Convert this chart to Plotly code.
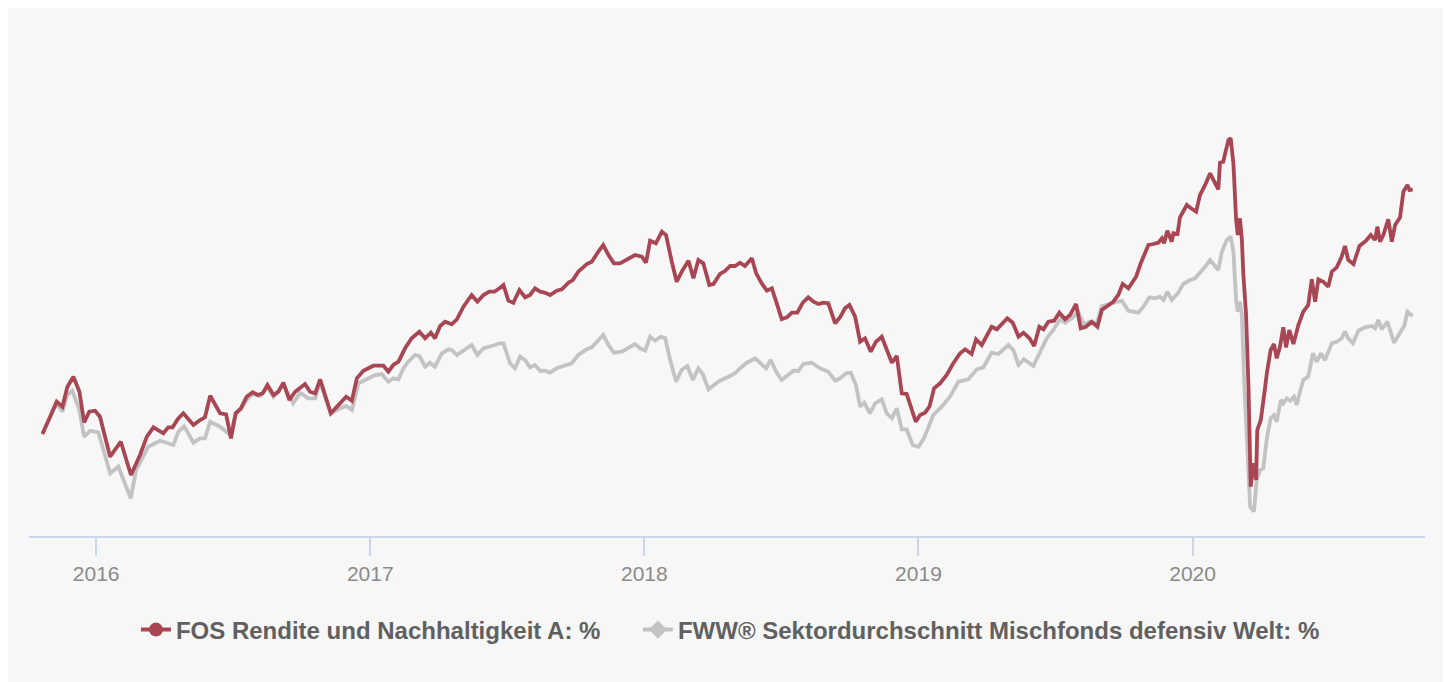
import plotly.graph_objects as go

# weekly performance in % (x as decimal year)
fos_x = [
    2015.804, 2015.856, 2015.877, 2015.895, 2015.917, 2015.939, 2015.956, 2015.975, 2015.996, 2016.014,
    2016.051, 2016.090, 2016.127, 2016.160, 2016.185, 2016.209, 2016.245, 2016.263, 2016.279, 2016.298,
    2016.318, 2016.355, 2016.379, 2016.397, 2016.416, 2016.452, 2016.474, 2016.492, 2016.509, 2016.528,
    2016.549, 2016.571, 2016.590, 2016.608, 2016.625, 2016.647, 2016.665, 2016.683, 2016.705, 2016.726,
    2016.762, 2016.780, 2016.799, 2016.817, 2016.856, 2016.884, 2016.912, 2016.933, 2016.951, 2016.975,
    2017.011, 2017.048, 2017.066, 2017.084, 2017.103, 2017.127, 2017.151, 2017.179, 2017.200, 2017.221,
    2017.236, 2017.255, 2017.273, 2017.297, 2017.316, 2017.340, 2017.370, 2017.391, 2017.413, 2017.435,
    2017.453, 2017.474, 2017.486, 2017.504, 2017.522, 2017.544, 2017.565, 2017.583, 2017.601, 2017.620,
    2017.638, 2017.656, 2017.680, 2017.699, 2017.723, 2017.739, 2017.759, 2017.790, 2017.808, 2017.832,
    2017.850, 2017.869, 2017.889, 2017.911, 2017.936, 2017.966, 2017.991, 2018.006, 2018.021, 2018.042,
    2018.064, 2018.079, 2018.100, 2018.118, 2018.140, 2018.161, 2018.179, 2018.197, 2018.215, 2018.237,
    2018.252, 2018.276, 2018.294, 2018.313, 2018.331, 2018.349, 2018.367, 2018.392, 2018.408, 2018.428,
    2018.447, 2018.465, 2018.483, 2018.501, 2018.520, 2018.538, 2018.558, 2018.578, 2018.598, 2018.617,
    2018.635, 2018.653, 2018.671, 2018.696, 2018.714, 2018.732, 2018.748, 2018.769, 2018.787, 2018.805,
    2018.826, 2018.845, 2018.866, 2018.884, 2018.903, 2018.921, 2018.939, 2018.957, 2018.976, 2018.990,
    2019.006, 2019.024, 2019.040, 2019.057, 2019.079, 2019.103, 2019.127, 2019.152, 2019.170, 2019.194,
    2019.210, 2019.231, 2019.267, 2019.286, 2019.324, 2019.344, 2019.365, 2019.383, 2019.405, 2019.422,
    2019.441, 2019.456, 2019.474, 2019.495, 2019.514, 2019.535, 2019.553, 2019.575, 2019.592, 2019.611,
    2019.632, 2019.653, 2019.669, 2019.689, 2019.711, 2019.729, 2019.745, 2019.766, 2019.794, 2019.811,
    2019.839, 2019.857, 2019.875, 2019.888, 2019.896, 2019.908, 2019.924, 2019.930, 2019.945, 2019.954,
    2019.979, 2019.994, 2020.013, 2020.027, 2020.046, 2020.064, 2020.076, 2020.094, 2020.100, 2020.112,
    2020.119, 2020.131, 2020.139, 2020.149, 2020.159, 2020.165, 2020.173, 2020.180, 2020.185, 2020.195,
    2020.204, 2020.212, 2020.222, 2020.232, 2020.236, 2020.249, 2020.265, 2020.271, 2020.285, 2020.297,
    2020.307, 2020.319, 2020.331, 2020.341, 2020.353, 2020.368, 2020.386, 2020.404, 2020.422, 2020.435,
    2020.447, 2020.459, 2020.477, 2020.495, 2020.508, 2020.526, 2020.544, 2020.556, 2020.568, 2020.587,
    2020.609, 2020.633, 2020.650, 2020.666, 2020.674, 2020.684, 2020.696, 2020.714, 2020.727, 2020.739,
    2020.757, 2020.769, 2020.784, 2020.791, 2020.803,
]
fos_y = [
    0.00, 3.23, 2.73, 4.73, 5.73, 4.23, 1.17, 2.23, 2.33, 1.73,
    -2.27, -0.77, -4.10, -2.10, -0.27, 0.67, 0.07, 0.67, 0.67, 1.50,
    2.07, 0.90, 1.40, 1.67, 3.83, 2.07, 1.97, -0.43, 2.07, 2.57,
    3.73, 4.17, 3.90, 4.07, 4.90, 3.90, 4.23, 5.13, 3.40, 4.23,
    5.00, 4.23, 4.07, 5.47, 2.07, 2.90, 3.73, 3.33, 5.57, 6.33,
    6.83, 6.83, 6.23, 6.90, 7.23, 8.57, 9.57, 10.23, 9.57, 10.13,
    9.57, 10.80, 11.23, 10.97, 11.47, 12.73, 13.90, 13.23, 13.90, 14.23,
    14.23, 14.63, 14.90, 13.33, 13.13, 14.40, 13.67, 13.90, 14.57, 14.23,
    14.13, 13.90, 14.33, 14.47, 15.13, 15.40, 16.23, 17.00, 17.23, 18.23,
    18.90, 17.90, 17.07, 17.07, 17.40, 17.90, 17.73, 17.13, 19.33, 19.07,
    20.23, 19.90, 17.23, 15.23, 16.40, 17.33, 15.57, 17.40, 17.07, 14.90,
    15.00, 16.00, 16.30, 16.80, 16.80, 17.13, 16.80, 17.57, 16.07, 15.07,
    14.33, 14.57, 13.07, 11.50, 11.67, 12.13, 12.13, 13.13, 13.67, 13.23,
    13.00, 13.13, 13.07, 11.07, 11.67, 12.57, 12.90, 11.73, 9.23, 9.57,
    8.23, 9.23, 9.73, 8.40, 7.13, 7.80, 4.07, 4.00, 2.40, 1.23,
    1.90, 2.13, 2.73, 4.57, 5.07, 5.90, 7.07, 8.07, 8.47, 8.00,
    9.47, 8.90, 10.73, 10.47, 11.57, 11.13, 9.73, 10.13, 9.57, 8.80,
    10.73, 10.47, 11.23, 11.33, 12.13, 11.47, 11.90, 13.00, 10.57, 10.73,
    11.23, 10.73, 12.40, 12.80, 13.23, 13.90, 15.00, 14.57, 15.73, 17.07,
    18.90, 19.00, 19.13, 19.57, 19.07, 20.33, 19.23, 20.07, 20.00, 21.67,
    22.90, 22.57, 22.23, 23.90, 24.90, 26.07, 25.40, 24.47, 27.13, 27.23,
    28.07, 29.40, 29.57, 27.07, 21.40, 19.90, 21.57, 19.40, 16.07, 12.07,
    4.73, -5.27, -2.93, -4.60, 0.40, 1.40, 4.73, 6.07, 8.40, 9.00,
    7.57, 8.73, 10.67, 8.67, 10.40, 9.00, 10.90, 12.23, 12.90, 15.47,
    13.23, 15.47, 15.23, 14.73, 16.23, 16.67, 17.73, 18.80, 17.40, 17.00,
    18.80, 19.33, 19.90, 19.40, 20.73, 19.23, 19.90, 21.47, 19.23, 20.90,
    21.67, 24.23, 24.90, 24.40, 24.47,
]

fww_x = [
    2015.804, 2015.856, 2015.877, 2015.895, 2015.913, 2015.939, 2015.956, 2015.978, 2016.008, 2016.051,
    2016.081, 2016.103, 2016.126, 2016.146, 2016.190, 2016.233, 2016.282, 2016.300, 2016.321, 2016.355,
    2016.379, 2016.397, 2016.416, 2016.452, 2016.489, 2016.509, 2016.528, 2016.549, 2016.571, 2016.598,
    2016.625, 2016.647, 2016.683, 2016.719, 2016.744, 2016.774, 2016.799, 2016.817, 2016.856, 2016.890,
    2016.912, 2016.933, 2016.957, 2016.987, 2017.018, 2017.042, 2017.066, 2017.084, 2017.103, 2017.121,
    2017.139, 2017.163, 2017.179, 2017.200, 2017.218, 2017.236, 2017.261, 2017.285, 2017.297, 2017.316,
    2017.342, 2017.370, 2017.391, 2017.413, 2017.443, 2017.474, 2017.486, 2017.510, 2017.528, 2017.547,
    2017.565, 2017.583, 2017.601, 2017.620, 2017.638, 2017.656, 2017.680, 2017.711, 2017.735, 2017.759,
    2017.790, 2017.808, 2017.829, 2017.850, 2017.869, 2017.889, 2017.918, 2017.942, 2017.966, 2017.984,
    2018.003, 2018.021, 2018.039, 2018.060, 2018.076, 2018.094, 2018.116, 2018.136, 2018.157, 2018.177,
    2018.197, 2018.213, 2018.234, 2018.254, 2018.276, 2018.307, 2018.331, 2018.349, 2018.374, 2018.404,
    2018.422, 2018.444, 2018.461, 2018.481, 2018.501, 2018.525, 2018.544, 2018.562, 2018.580, 2018.611,
    2018.641, 2018.671, 2018.696, 2018.714, 2018.736, 2018.753, 2018.772, 2018.787, 2018.802, 2018.823,
    2018.842, 2018.866, 2018.884, 2018.903, 2018.921, 2018.939, 2018.957, 2018.979, 2019.000, 2019.020,
    2019.054, 2019.085, 2019.115, 2019.146, 2019.182, 2019.213, 2019.237, 2019.267, 2019.292, 2019.328,
    2019.346, 2019.365, 2019.385, 2019.419, 2019.444, 2019.468, 2019.492, 2019.517, 2019.535, 2019.559,
    2019.583, 2019.602, 2019.626, 2019.651, 2019.669, 2019.699, 2019.724, 2019.742, 2019.766, 2019.802,
    2019.821, 2019.842, 2019.863, 2019.881, 2019.894, 2019.908, 2019.924, 2019.948, 2019.966, 2019.991,
    2020.009, 2020.027, 2020.046, 2020.064, 2020.082, 2020.094, 2020.107, 2020.125, 2020.139, 2020.149,
    2020.159, 2020.165, 2020.173, 2020.180, 2020.188, 2020.198, 2020.210, 2020.224, 2020.234, 2020.246,
    2020.258, 2020.271, 2020.285, 2020.297, 2020.307, 2020.322, 2020.331, 2020.344, 2020.356, 2020.370,
    2020.380, 2020.392, 2020.404, 2020.422, 2020.439, 2020.453, 2020.468, 2020.483, 2020.508, 2020.526,
    2020.544, 2020.556, 2020.568, 2020.585, 2020.605, 2020.629, 2020.654, 2020.666, 2020.678, 2020.690,
    2020.711, 2020.735, 2020.751, 2020.772, 2020.784, 2020.803,
]
fww_y = [
    0.00, 3.07, 2.23, 3.90, 4.33, 2.40, -0.27, 0.33, 0.17, -3.93,
    -3.27, -4.93, -6.43, -3.60, -1.27, -0.67, -1.10, 0.23, 0.80, -0.87,
    -0.43, -0.43, 1.23, 0.73, -0.10, 2.00, 2.47, 3.40, 4.00, 3.80,
    4.67, 3.70, 4.90, 3.07, 4.13, 3.57, 3.57, 5.17, 2.07, 2.57,
    2.80, 2.40, 5.07, 5.47, 5.90, 6.00, 5.23, 5.57, 5.47, 6.57,
    7.23, 7.90, 7.80, 6.73, 7.13, 6.73, 8.07, 8.47, 8.40, 7.90,
    8.40, 8.90, 7.90, 8.57, 8.80, 9.07, 9.07, 7.07, 6.57, 7.73,
    7.40, 6.67, 6.90, 6.30, 6.33, 6.13, 6.57, 6.90, 7.07, 7.90,
    8.47, 8.67, 9.23, 9.90, 8.90, 8.13, 8.23, 8.67, 9.00, 8.57,
    8.33, 9.73, 9.33, 9.73, 9.57, 7.40, 5.23, 6.40, 6.80, 5.40,
    6.57, 6.00, 4.47, 4.90, 5.33, 5.73, 6.07, 6.57, 7.13, 7.57,
    7.07, 6.57, 7.40, 6.23, 5.40, 5.90, 6.33, 6.30, 7.00, 7.13,
    6.57, 6.23, 5.33, 5.57, 6.07, 6.13, 4.90, 2.73, 3.13, 2.07,
    3.07, 3.47, 2.07, 1.57, 2.57, 0.47, 0.47, -1.10, -1.27, -0.43,
    1.90, 2.73, 3.73, 5.23, 5.47, 6.47, 6.67, 8.13, 8.00, 8.90,
    8.40, 6.90, 7.47, 6.80, 8.23, 9.57, 10.40, 11.47, 11.13, 11.57,
    12.23, 11.00, 11.23, 11.07, 12.80, 13.00, 13.13, 13.33, 12.33, 12.13,
    12.73, 13.67, 13.57, 13.73, 13.40, 14.23, 13.40, 14.13, 15.00, 15.40,
    15.57, 16.07, 16.73, 17.40, 16.73, 16.40, 18.23, 19.40, 19.73, 18.23,
    13.40, 12.23, 13.23, 11.90, 5.40, 0.40, -7.27, -7.77, -4.60, -3.60,
    -3.43, -0.43, 1.57, 1.90, 1.23, 3.40, 3.07, 3.57, 3.33, 3.73,
    2.90, 4.23, 5.40, 5.73, 8.07, 7.23, 8.07, 7.40, 9.07, 9.23,
    9.57, 10.23, 9.57, 9.07, 10.33, 10.67, 10.80, 10.57, 11.40, 10.47,
    11.23, 9.13, 9.90, 10.80, 12.23, 11.80,
]

year_ticks = [2016, 2017, 2018, 2019, 2020]
year_labels = ["2016", "2017", "2018", "2019", "2020"]

fos_name = "FOS Rendite und Nachhaltigkeit A: %"
fww_name = "FWW® Sektordurchschnitt Mischfonds defensiv Welt: %"

RED = "#a84753"
GREY = "#c3c3c3"

fig = go.Figure()
fig.add_trace(go.Scatter(x=fww_x, y=fww_y, mode="lines", line=dict(color=GREY, width=3.8),
                         showlegend=False, hoverinfo="skip"))
fig.add_trace(go.Scatter(x=fos_x, y=fos_y, mode="lines", line=dict(color=RED, width=3.8),
                         showlegend=False, hoverinfo="skip"))

# legend entries (line + marker, like the original)
fig.add_trace(go.Scatter(x=[None], y=[None], mode="lines+markers", name=fos_name,
                         line=dict(color=RED, width=4),
                         marker=dict(symbol="circle", size=14, color=RED),
                         legend="legend"))
fig.add_trace(go.Scatter(x=[None], y=[None], mode="lines+markers", name=fww_name,
                         line=dict(color=GREY, width=4),
                         marker=dict(symbol="diamond", size=14, color=GREY),
                         legend="legend2"))

legend_font = dict(family="Liberation Sans, Arial, sans-serif", size=24,
                   color="#606060", weight="bold")

fig.update_layout(
    width=1438,
    height=674,
    margin=dict(l=21, r=21, t=122, b=146),
    paper_bgcolor="#f7f7f7",
    plot_bgcolor="#f7f7f7",
    font=dict(family="Liberation Sans, Arial, sans-serif"),
    legend=dict(x=0.0766, y=-0.2315, xanchor="left", yanchor="middle",
                orientation="h", font=legend_font, bgcolor="rgba(0,0,0,0)",
                itemclick=False),
    legend2=dict(x=0.4362, y=-0.2315, xanchor="left", yanchor="middle",
                 orientation="h", font=legend_font, bgcolor="rgba(0,0,0,0)",
                 itemclick=False),
    xaxis=dict(
        range=[2015.755, 2020.848],
        tickvals=year_ticks,
        ticktext=year_labels,
        showgrid=False,
        zeroline=False,
        showline=True,
        linecolor="#ccd6eb",
        linewidth=2,
        ticks="outside",
        ticklen=18,
        tickwidth=2,
        tickcolor="#ccd6eb",
        tickfont=dict(size=21, color="#8a8a8a"),
    ),
    yaxis=dict(range=[-10.2, 30.4], visible=False, showgrid=False, zeroline=False),
)

fig.write_html("out.html")
